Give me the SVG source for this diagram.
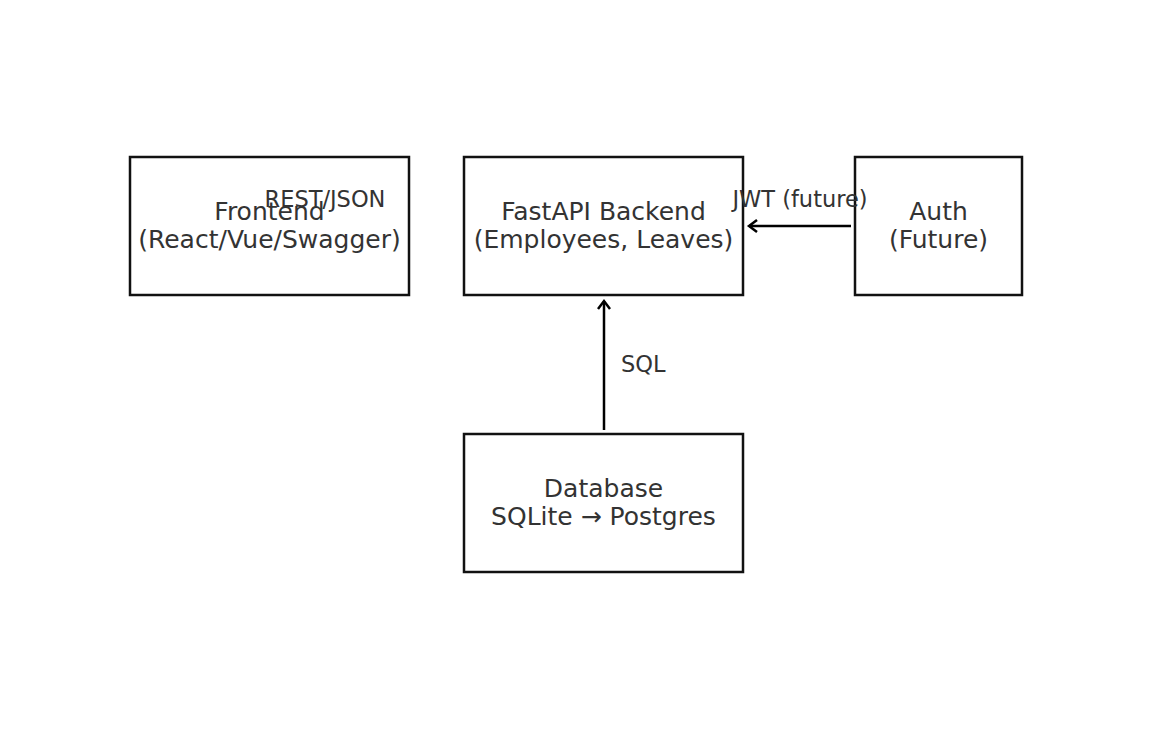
<svg xmlns="http://www.w3.org/2000/svg" width="1152" height="729" viewBox="0 0 1152 729">
<style>
.box{fill:#fff;stroke:#111;stroke-width:2.5}
.t{font-family:"DejaVu Sans",sans-serif;font-size:25px;fill:#333;text-anchor:middle}
.l{font-family:"DejaVu Sans",sans-serif;font-size:22.5px;fill:#333}
.c{stroke:#000;stroke-width:2.5;fill:none}
</style>
<defs>
<marker id="ah" markerWidth="14" markerHeight="14" refX="11" refY="7" orient="auto" markerUnits="userSpaceOnUse">
<path d="M3,1 L11,7 L3,13" fill="none" stroke="#000" stroke-width="2.5"/>
</marker>
</defs>
<rect width="1152" height="729" fill="#fff"/>
<g id="frontend"><rect class="box" x="130" y="157" width="279" height="138"/>
<text class="t" x="269.5" y="220">Frontend</text><text class="t" x="269.5" y="247.5">(React/Vue/Swagger)</text></g>
<g id="backend"><rect class="box" x="464" y="157" width="279" height="138"/>
<text class="t" x="603.5" y="220">FastAPI Backend</text><text class="t" x="603.5" y="247.5">(Employees, Leaves)</text></g>
<g id="auth"><rect class="box" x="855" y="157" width="167" height="138"/>
<text class="t" x="938.5" y="220">Auth</text><text class="t" x="938.5" y="247.5">(Future)</text></g>
<g id="database"><rect class="box" x="464" y="434" width="279" height="138"/>
<text class="t" x="603.5" y="497">Database</text><text class="t" x="603.5" y="524.5">SQLite → Postgres</text></g>
<g id="connectors">
<line class="c" x1="851" y1="226" x2="749" y2="226" marker-end="url(#ah)"/>
<line class="c" x1="604" y1="430" x2="604" y2="301" marker-end="url(#ah)"/>
<text class="l" x="325" y="207" text-anchor="middle">REST/JSON</text>
<text class="l" x="800" y="207" text-anchor="middle">JWT (future)</text>
<text class="l" x="621" y="372">SQL</text>
</g>
</svg>
